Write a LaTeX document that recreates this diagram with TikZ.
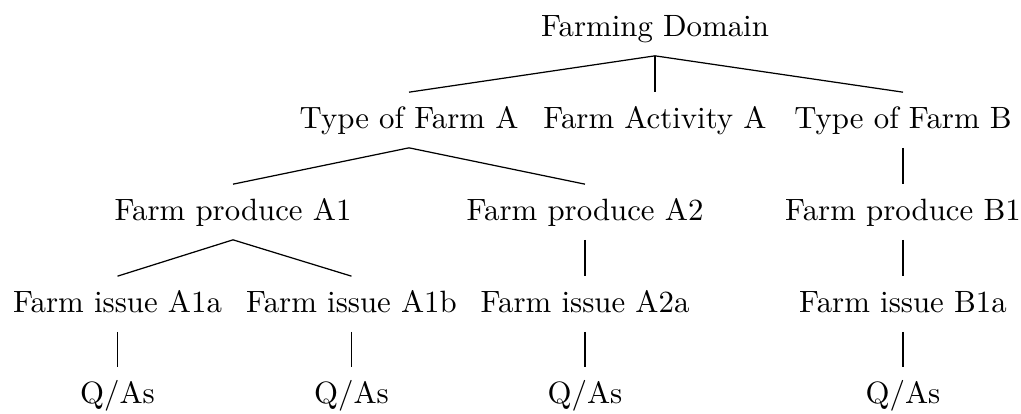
\documentclass[tikz,border=0pt]{standalone}
\begin{document}
\begin{tikzpicture}[x=0.3245pt,y=-0.3245pt,
  tn/.style={anchor=base,inner sep=3.33pt,outer sep=0pt,text height=8.3pt,text depth=3.1pt,font=\fontsize{10}{12}\selectfont},
  edge/.style={line width=0.4pt}]
\useasboundingbox (0,0) rectangle (1021,413);
\node[tn] (root) at (655,36) {Farming Domain};
\node[tn] (tfa) at (409,128) {Type of Farm A};
\node[tn] (faa) at (655,128) {Farm Activity A};
\node[tn] (tfb) at (903,128) {Type of Farm B};
\node[tn] (pa1) at (233,220) {Farm produce A1};
\node[tn] (pa2) at (585,220) {Farm produce A2};
\node[tn] (pb1) at (903,220) {Farm produce B1};
\node[tn] (ia1a) at (117.5,312) {Farm issue A1a};
\node[tn] (ia1b) at (351.5,312) {Farm issue A1b};
\node[tn] (ia2a) at (585,312) {Farm issue A2a};
\node[tn] (ib1a) at (903,312) {Farm issue B1a};
\node[tn] (q1) at (117.5,403) {Q/As};
\node[tn] (q2) at (351.5,403) {Q/As};
\node[tn] (q3) at (585,403) {Q/As};
\node[tn] (q4) at (903,403) {Q/As};
\draw[edge] (root.south) -- (tfa.north);
\draw[edge] (root.south) -- (faa.north);
\draw[edge] (root.south) -- (tfb.north);
\draw[edge] (tfa.south) -- (pa1.north);
\draw[edge] (tfa.south) -- (pa2.north);
\draw[edge] (tfb.south) -- (pb1.north);
\draw[edge] (pa1.south) -- (ia1a.north);
\draw[edge] (pa1.south) -- (ia1b.north);
\draw[edge] (pa2.south) -- (ia2a.north);
\draw[edge] (pb1.south) -- (ib1a.north);
\draw[edge] (ia1a.south) -- (q1.north);
\draw[edge] (ia1b.south) -- (q2.north);
\draw[edge] (ia2a.south) -- (q3.north);
\draw[edge] (ib1a.south) -- (q4.north);
\end{tikzpicture}
\end{document}
